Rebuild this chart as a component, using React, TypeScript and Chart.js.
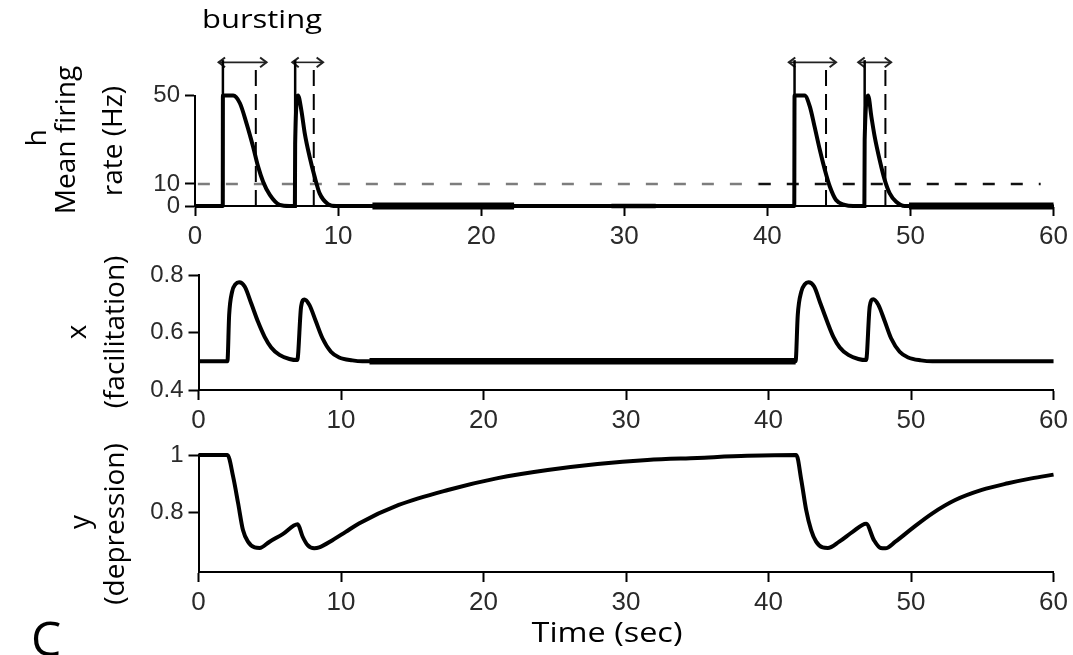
import React, { useEffect, useRef } from "react";
import { Chart, registerables } from "chart.js";

Chart.register(...registerables);

// ---------------- data ----------------
const X_TICKS = [0, 10, 20, 30, 40, 50, 60];
const H_TICKS = [0, 10, 50];
const FAC_TICKS = [0.4, 0.6, 0.8];
const DEP_TICKS = [0.8, 1];

// h : mean firing rate (Hz)
const H_TIME = [0, 1.94, 1.95, 2.67, 3.14, 3.6, 4.06, 4.41, 4.76, 5.23, 5.92, 6.6, 6.98, 7.0, 7.2, 7.43, 7.67, 8.01, 8.36, 8.71, 9.29, 9.87, 41.88, 41.9, 42.6, 42.97, 43.3, 43.67, 44.02, 44.37, 44.8, 45.4, 46.0, 46.78, 46.8, 47.04, 47.27, 47.5, 47.85, 48.2, 48.55, 49.0, 49.6, 60];
const H_RATE = [0, 0, 50, 50, 46.5, 37.4, 26.8, 17.8, 11, 5, 0.5, 0, 0, 28, 50, 43.4, 32.9, 22.3, 13.3, 5.7, 0.9, 0, 0, 50, 50, 45, 35.9, 25.3, 16.3, 8.7, 2.7, 0.5, 0, 0, 30, 50, 40.4, 31.4, 20.8, 11.8, 5.7, 1.9, 0, 0];

// x : facilitation
const FAC_TIME = [0, 2.03, 2.15, 2.35, 2.6, 2.85, 3.24, 3.71, 4.17, 4.64, 5.1, 5.68, 6.38, 6.93, 7.2, 7.43, 7.78, 8.24, 8.7, 9.29, 9.87, 10.8, 11.5, 41.9, 42.05, 42.3, 42.55, 42.8, 43.2, 43.65, 44.1, 44.55, 45.0, 45.6, 46.3, 46.85, 47.1, 47.35, 47.7, 48.15, 48.6, 49.2, 49.8, 50.7, 51.5, 60];
const FAC_VAL = [0.5, 0.5, 0.66, 0.74, 0.768, 0.775, 0.76, 0.7, 0.638, 0.585, 0.548, 0.522, 0.508, 0.504, 0.69, 0.715, 0.696, 0.638, 0.58, 0.533, 0.513, 0.503, 0.5, 0.5, 0.66, 0.742, 0.768, 0.775, 0.76, 0.7, 0.64, 0.585, 0.548, 0.522, 0.508, 0.504, 0.69, 0.716, 0.697, 0.64, 0.58, 0.533, 0.513, 0.503, 0.5, 0.5];

// y : depression
const DEP_TIME = [0, 2.03, 2.43, 2.78, 3.12, 3.47, 3.94, 4.29, 4.99, 5.91, 6.96, 7.31, 7.66, 8.12, 8.47, 9.4, 10.33, 11.26, 14.05, 17.5, 21.0, 24.5, 28.0, 31.5, 35.0, 38.5, 41.95, 42.3, 42.64, 42.99, 43.34, 43.8, 44.16, 44.96, 45.9, 46.85, 47.4, 47.87, 48.2, 48.9, 50.08, 51.5, 53.1, 54.97, 56.8, 58.45, 60];
const DEP_VAL = [1, 1, 0.925, 0.833, 0.74, 0.7, 0.68, 0.678, 0.7, 0.726, 0.76, 0.717, 0.688, 0.677, 0.68, 0.705, 0.734, 0.763, 0.827, 0.879, 0.92, 0.948, 0.969, 0.983, 0.99, 0.997, 1, 0.913, 0.81, 0.74, 0.7, 0.68, 0.678, 0.7, 0.734, 0.762, 0.705, 0.678, 0.677, 0.7, 0.746, 0.798, 0.844, 0.879, 0.902, 0.919, 0.932];

// bursting markers (seconds / Hz)
const BURST_ON = [1.95, 7.0, 41.9, 46.8];
const BURST_OFF = [4.25, 8.3, 44.1, 48.25];
const ARROW_FROM = [1.65, 6.8, 41.5, 46.35];
const ARROW_TO = [5.0, 8.95, 44.8, 48.65];
const MARKER_TOP = 66;
const ARROW_LEVEL = 65;
const HEAD_DT = 0.45; // arrow-head length (s)
const HEAD_DH = 2.2; // arrow-head half height (Hz)

// 10 Hz threshold line
const THRESHOLD = 10;
const THRESHOLD_GRAY = [0.2, 39.4];
const THRESHOLD_DARK = [39.4, 59.1];

// heavier stretches of the baselines
const H_BOLD_FROM = [12.4, 49.9];
const H_BOLD_TO = [22.3, 60];
const H_SEMI_FROM = [29.1];
const H_SEMI_TO = [32.2];
const FAC_BOLD_FROM = [12.0];
const FAC_BOLD_TO = [41.9];

// ---------------- helpers ----------------
const pairs = (xs: number[], ys: number[]) => xs.map((x, i) => ({ x, y: ys[i] }));

const line = (data: any[], extra: any = {}) => ({
  data,
  showLine: true,
  pointRadius: 0,
  pointHoverRadius: 0,
  borderColor: "#000",
  backgroundColor: "#000",
  borderWidth: 2,
  clip: false,
  ...extra,
});

const TICK_FONT = "'Liberation Sans', Arial, sans-serif";

const xScale = () => ({
  type: "linear",
  min: 0,
  max: 60,
  afterBuildTicks: (s: any) => {
    s.ticks = X_TICKS.map((v) => ({ value: v }));
  },
  ticks: {
    font: { family: TICK_FONT, size: 26 },
    color: "#2a2a2a",
    padding: 5,
    maxRotation: 0,
    autoSkip: false,
    callback: (v: any) => String(v),
  },
  grid: { drawOnChartArea: false, drawTicks: true, tickLength: 10, tickWidth: 2, tickColor: "#000", color: "#000" },
  border: { display: true, color: "#000", width: 2 },
  afterFit: (s: any) => {
    s.height = 45;
  },
});

const yScale = (min: number, max: number, ticks: number[], left: number) => ({
  type: "linear",
  min,
  max,
  afterBuildTicks: (s: any) => {
    s.ticks = ticks.map((v) => ({ value: v }));
  },
  ticks: {
    font: { family: TICK_FONT, size: 24 },
    color: "#2a2a2a",
    padding: 5,
    autoSkip: false,
    callback: (v: any) => String(v),
  },
  grid: { drawOnChartArea: false, drawTicks: true, tickLength: 10, tickWidth: 2, tickColor: "#000", color: "#000" },
  border: { display: true, color: "#000", width: 2 },
  afterFit: (s: any) => {
    s.width = left;
  },
});

const baseOptions = (padTop: number, padRight: number, y: any) => ({
  responsive: false,
  maintainAspectRatio: false,
  animation: false,
  devicePixelRatio: 1,
  events: [],
  layout: { padding: { top: padTop, right: padRight, left: 0, bottom: 0 } },
  plugins: { legend: { display: false }, tooltip: { enabled: false }, title: { display: false } },
  scales: { x: xScale(), y },
});

function hDatasets() {
  const ds: any[] = [];
  ds.push(line(pairs(H_TIME, H_RATE), { borderWidth: 4, cubicInterpolationMode: "monotone" }));
  H_BOLD_FROM.forEach((a, i) => ds.push(line([{ x: a, y: 0 }, { x: H_BOLD_TO[i], y: 0 }], { borderWidth: 7 })));
  H_SEMI_FROM.forEach((a, i) => ds.push(line([{ x: a, y: 0 }, { x: H_SEMI_TO[i], y: 0 }], { borderWidth: 4.5 })));
  BURST_ON.forEach((t) => ds.push(line([{ x: t, y: 0 }, { x: t, y: MARKER_TOP }], { borderWidth: 2.5 })));
  BURST_OFF.forEach((t) =>
    ds.push(line([{ x: t, y: 0 }, { x: t, y: MARKER_TOP - 1 }], { borderWidth: 2, borderDash: [16, 8] }))
  );
  const arrowStyle = { borderWidth: 1.6, borderColor: "#222" };
  ARROW_FROM.forEach((a, i) => {
    const b = ARROW_TO[i];
    ds.push(line([{ x: a, y: ARROW_LEVEL }, { x: b, y: ARROW_LEVEL }], arrowStyle));
    ds.push(
      line(
        [
          { x: a + HEAD_DT, y: ARROW_LEVEL + HEAD_DH },
          { x: a, y: ARROW_LEVEL },
          { x: a + HEAD_DT, y: ARROW_LEVEL - HEAD_DH },
        ],
        { ...arrowStyle, borderWidth: 2 }
      )
    );
    ds.push(
      line(
        [
          { x: b - HEAD_DT, y: ARROW_LEVEL + HEAD_DH },
          { x: b, y: ARROW_LEVEL },
          { x: b - HEAD_DT, y: ARROW_LEVEL - HEAD_DH },
        ],
        { ...arrowStyle, borderWidth: 2 }
      )
    );
  });
  ds.push(
    line([{ x: THRESHOLD_DARK[0], y: THRESHOLD }, { x: THRESHOLD_DARK[1], y: THRESHOLD }], {
      borderWidth: 2.5,
      borderColor: "#111",
      borderDash: [12, 16],
    })
  );
  ds.push(
    line([{ x: THRESHOLD_GRAY[0], y: THRESHOLD }, { x: THRESHOLD_GRAY[1], y: THRESHOLD }], {
      borderWidth: 2.5,
      borderColor: "#7d7d7d",
      borderDash: [12, 16],
    })
  );
  return ds;
}

function facDatasets() {
  const ds: any[] = [];
  ds.push(line(pairs(FAC_TIME, FAC_VAL), { borderWidth: 4, cubicInterpolationMode: "monotone" }));
  FAC_BOLD_FROM.forEach((a, i) => ds.push(line([{ x: a, y: 0.5 }, { x: FAC_BOLD_TO[i], y: 0.5 }], { borderWidth: 6.5 })));
  return ds;
}

function depDatasets() {
  return [line(pairs(DEP_TIME, DEP_VAL), { borderWidth: 4, cubicInterpolationMode: "monotone" })];
}

const PANELS = [
  { key: "h", top: 0, height: 251, padTop: 95.5, padRight: 17, left: 195, min: 0, max: 50, ticks: H_TICKS, make: hDatasets },
  { key: "x", top: 251, height: 184, padTop: 24, padRight: 14, left: 198.5, min: 0.4, max: 0.8, ticks: FAC_TICKS, make: facDatasets },
  { key: "y", top: 435, height: 182, padTop: 20, padRight: 14, left: 198.5, min: 0.595, max: 1, ticks: DEP_TICKS, make: depDatasets },
];

const TITLE_FONT = "'Open Sans', 'Noto Sans', sans-serif";

const ROTATED = [
  { text: "h", x: 35, y: 138 },
  { text: "Mean firing", x: 64, y: 140 },
  { text: "rate (Hz)", x: 111, y: 141 },
  { text: "x", x: 75, y: 332 },
  { text: "(facilitation)", x: 113, y: 332 },
  { text: "y", x: 78, y: 522 },
  { text: "(depression)", x: 113, y: 524 },
];

export default function App() {
  const refs = useRef<(HTMLCanvasElement | null)[]>([]);

  useEffect(() => {
    const charts: Chart[] = [];
    PANELS.forEach((p, i) => {
      const c = refs.current[i];
      if (!c) return;
      charts.push(
        new Chart(c, {
          type: "scatter",
          data: { datasets: p.make() },
          options: baseOptions(p.padTop, p.padRight, yScale(p.min, p.max, p.ticks, p.left)) as any,
        })
      );
    });
    return () => charts.forEach((ch) => ch.destroy());
  }, []);

  return (
    <div
      style={{
        position: "fixed",
        left: 0,
        top: 0,
        width: 1073,
        height: 655,
        overflow: "hidden",
        background: "#fff",
      }}
    >
      {PANELS.map((p, i) => (
        <canvas
          key={p.key}
          ref={(el) => {
            refs.current[i] = el;
          }}
          width={1073}
          height={p.height}
          style={{ position: "absolute", left: 0, top: p.top, width: 1073, height: p.height }}
        />
      ))}
      {ROTATED.map((r) => (
        <div
          key={r.text}
          style={{
            position: "absolute",
            left: r.x,
            top: r.y,
            transform: "translate(-50%, -50%) rotate(-90deg)",
            fontFamily: TITLE_FONT,
            fontSize: 28,
            lineHeight: 1,
            whiteSpace: "nowrap",
            color: "#000",
          }}
        >
          {r.text}
        </div>
      ))}
      <div
        style={{
          position: "absolute",
          left: 262,
          top: 5,
          transform: "translateX(-50%) scaleX(1.19)",
          fontFamily: TITLE_FONT,
          fontSize: 26,
          lineHeight: 1,
          whiteSpace: "nowrap",
        }}
      >
        bursting
      </div>
      <div
        style={{
          position: "absolute",
          left: 607,
          top: 618,
          transform: "translateX(-50%) scaleX(1.2)",
          fontFamily: TITLE_FONT,
          fontSize: 27,
          lineHeight: 1,
          whiteSpace: "nowrap",
        }}
      >
        Time (sec)
      </div>
      <div
        style={{
          position: "absolute",
          left: 31,
          top: 614,
          fontFamily: TITLE_FONT,
          fontSize: 48,
          lineHeight: 1,
          whiteSpace: "nowrap",
        }}
      >
        C
      </div>
    </div>
  );
}
